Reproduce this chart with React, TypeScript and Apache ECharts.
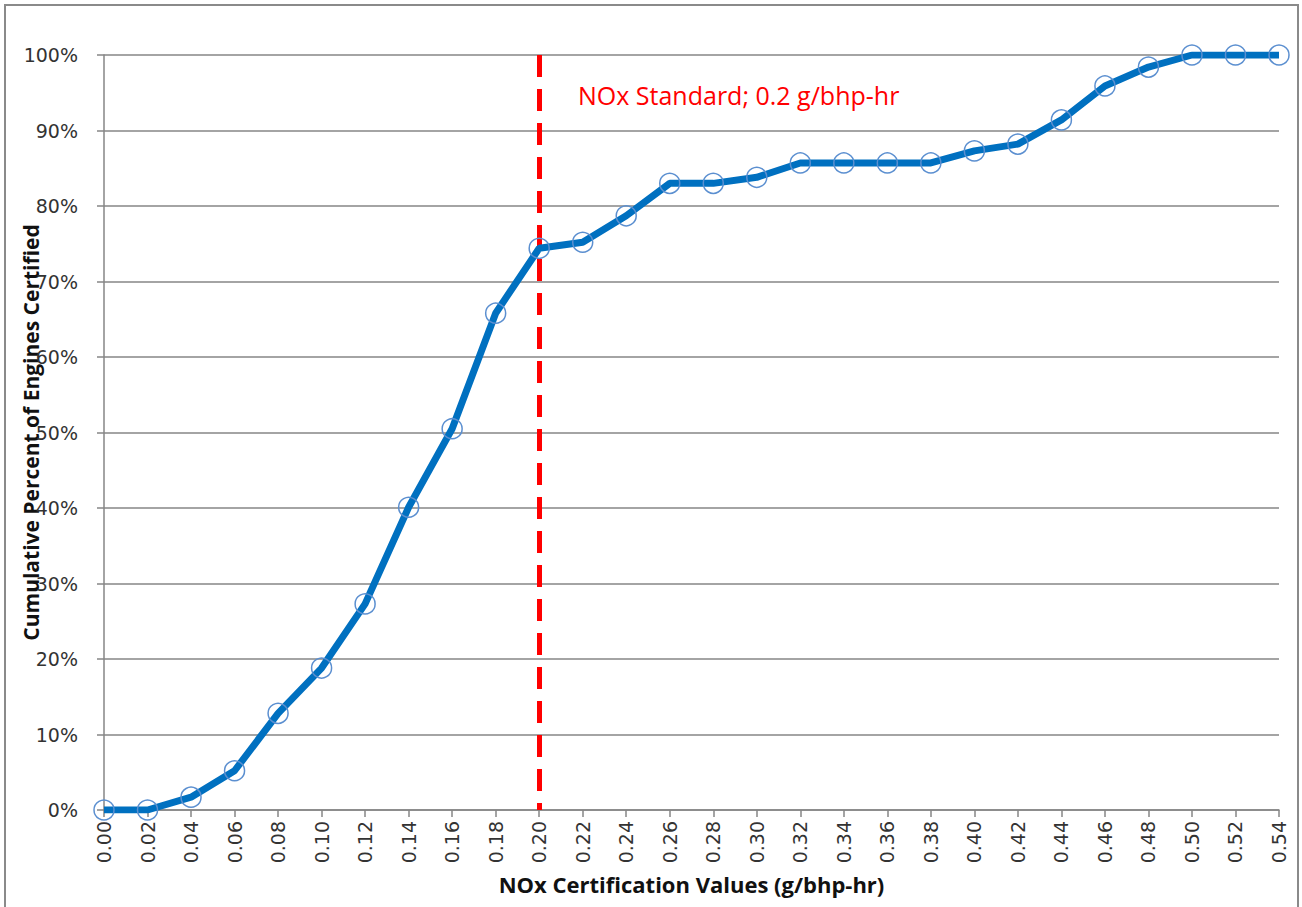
import React, { useEffect, useRef } from "react";
import * as echarts from "echarts";

const categories = ["0.00","0.02","0.04","0.06","0.08","0.10","0.12","0.14","0.16","0.18","0.20","0.22","0.24","0.26","0.28","0.30","0.32","0.34","0.36","0.38","0.40","0.42","0.44","0.46","0.48","0.50","0.52","0.54"];
const cumulativePercent = [0, 0, 1.7, 5.2, 12.8, 18.8, 27.3, 40.1, 50.5, 65.8, 74.4, 75.2, 78.7, 83.0, 83.0, 83.8, 85.7, 85.7, 85.7, 85.7, 87.3, 88.2, 91.4, 95.9, 98.4, 100, 100, 100];
const yTicks = [0, 10, 20, 30, 40, 50, 60, 70, 80, 90, 100];
const standardValue = "0.20";
const standardLabel = "NOx Standard; 0.2 g/bhp-hr";
const xTitle = "NOx Certification Values (g/bhp-hr)";
const yTitle = "Cumulative Percent of Engines Certified";

export default function App() {
  const ref = useRef<HTMLDivElement>(null);
  useEffect(() => {
    if (!ref.current) return;
    const chart = echarts.init(ref.current, null, { renderer: "svg" });
    chart.setOption({
      animation: false,
      backgroundColor: "#ffffff",
      grid: { left: 104, right: 23, top: 55, bottom: 97, containLabel: false, outerBoundsMode: "none" },
      xAxis: {
        type: "category",
        data: categories,
        boundaryGap: false,
        name: xTitle,
        nameLocation: "middle",
        nameGap: 63,
        nameMoveOverlap: false,
        nameTextStyle: { fontFamily: "Open Sans", fontWeight: "bold", fontSize: 22, color: "#111" },
        axisLine: { lineStyle: { color: "#868686", width: 1.5 } },
        axisTick: { show: true, length: 7, alignWithLabel: true, lineStyle: { color: "#868686", width: 1.5 } },
        axisLabel: { rotate: 90, margin: 11, fontFamily: "DejaVu Sans", fontSize: 19, color: "#333", interval: 0 },
        splitLine: { show: false },
      },
      yAxis: {
        type: "value",
        min: 0,
        max: 100,
        interval: 10,
        name: yTitle,
        nameLocation: "middle",
        nameGap: 63,
        nameMoveOverlap: false,
        nameRotate: 90,
        nameTextStyle: { fontFamily: "Open Sans", fontWeight: "bold", fontSize: 21, color: "#111" },
        axisLine: { show: true, lineStyle: { color: "#868686", width: 1.5 } },
        axisTick: { show: true, length: 7, lineStyle: { color: "#868686", width: 1.5 } },
        axisLabel: {
          margin: 26,
          fontFamily: "DejaVu Sans",
          fontSize: 19,
          color: "#333",
          formatter: (v: number) => (yTicks.includes(v) ? v + "%" : ""),
        },
        splitLine: { show: true, lineStyle: { color: "#868686", width: 1.5 } },
      },
      series: [
        {
          type: "line",
          data: cumulativePercent,
          lineStyle: { color: "#0070C0", width: 7 },
          symbol: "circle",
          symbolSize: 20,
          itemStyle: { color: "rgba(255,255,255,0)", borderColor: "#5B8FD0", borderWidth: 1.5 },
          z: 3,
          markLine: {
            silent: true,
            symbol: "none",
            label: { show: false },
            lineStyle: { color: "#FF0000", width: 5, type: [22, 12] },
            data: [[{ xAxis: standardValue, yAxis: 100 }, { xAxis: standardValue, yAxis: 0 }]],
            z: 2,
          },
        },
      ],
      graphic: [
        {
          type: "rect",
          shape: { x: 5, y: 5, width: 1293, height: 920 },
          style: { fill: "none", stroke: "#8a8a8a", lineWidth: 2 },
          silent: true,
        },
        {
          type: "text",
          left: 578,
          top: 82,
          style: { text: standardLabel, fill: "#FF0000", fontFamily: "Open Sans", fontSize: 25 },
        },
      ],
    });
    return () => chart.dispose();
  }, []);
  return <div ref={ref} style={{ position: "fixed", left: 0, top: 0, width: 1302, height: 907 }} />;
}
